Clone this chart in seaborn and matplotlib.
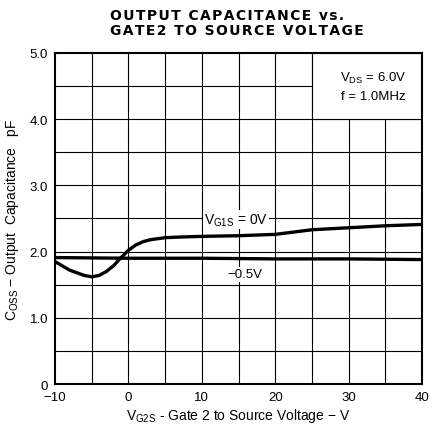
import pandas as pd
import matplotlib
matplotlib.use("Agg")
import matplotlib.pyplot as plt
from matplotlib.patches import Rectangle
import seaborn as sns

# VG1S = 0V curve
vg2s_0v = [-10, -8, -6, -5, -4, -3, -2, -1, 0, 1, 2, 3, 5, 7, 10, 15, 20, 25, 30, 35, 40]
coss_0v = [1.85, 1.72, 1.64, 1.62, 1.64, 1.70, 1.79, 1.91, 2.02, 2.10, 2.15, 2.18, 2.21,
           2.22, 2.23, 2.24, 2.26, 2.33, 2.36, 2.39, 2.41]
# VG1S = -0.5V curve
vg2s_05v = [-10, 0, 10, 20, 30, 40]
coss_05v = [1.91, 1.90, 1.90, 1.89, 1.89, 1.88]

x_ticks = [-10, 0, 10, 20, 30, 40]
x_labels = ["\u221210", "0", "10", "20", "30", "40"]
y_ticks = [0, 1, 2, 3, 4, 5]
y_labels = ["0", "1.0", "2.0", "3.0", "4.0", "5.0"]

title_lines = ["OUTPUT CAPACITANCE vs.", "GATE2 TO SOURCE VOLTAGE"]

df = pd.concat([
    pd.DataFrame({"vg2s": vg2s_0v, "coss": coss_0v, "vg1s": "0V"}),
    pd.DataFrame({"vg2s": vg2s_05v, "coss": coss_05v, "vg1s": "-0.5V"}),
])

sns.set_style("white")
plt.rcParams["font.family"] = ["Liberation Sans", "DejaVu Sans"]
plt.rcParams["mathtext.fontset"] = "custom"
plt.rcParams["mathtext.rm"] = "Liberation Sans"
for k in ["text.color", "axes.labelcolor", "xtick.color", "ytick.color"]:
    plt.rcParams[k] = "black"

fig = plt.figure(figsize=(4.33, 4.27), dpi=100)
ax = fig.add_axes([0.127, 0.098, 0.848, 0.776])

# grid every 5 V / 0.5 pF
for gx in range(-5, 40, 5):
    ax.axvline(gx, color="black", lw=0.8, zorder=1)
for gy in [0.5, 1.0, 1.5, 2.0, 2.5, 3.0, 3.5, 4.0, 4.5]:
    ax.axhline(gy, color="black", lw=0.8, zorder=1)

sns.lineplot(data=df, x="vg2s", y="coss", units="vg1s", estimator=None,
             color="black", lw=2.4, ax=ax, zorder=3, legend=False)

ax.set_xlim(-10, 40)
ax.set_ylim(0, 5)
ax.set_xticks(x_ticks)
ax.set_xticklabels(x_labels)
ax.set_yticks(y_ticks)
ax.set_yticklabels(y_labels)
ax.tick_params(length=0, labelsize=9.5, pad=5)
for s in ax.spines.values():
    s.set_color("black")
    s.set_linewidth(1.5)
    s.set_zorder(5)

# conditions box
ax.add_patch(Rectangle((25, 4.0), 15, 1.0, facecolor="white", edgecolor="black",
                       lw=0.8, zorder=2))
ax.text(33.3, 4.5, "$\\mathregular{V_{DS}}$ = 6.0V\nf = 1.0MHz", ha="center",
        va="center", fontsize=9.5, zorder=4, linespacing=1.6)

ax.text(10.3, 2.48, "$\\mathregular{V_{G1S}}$ = 0V", fontsize=10, ha="left", va="center",
        zorder=4, bbox=dict(facecolor="white", edgecolor="none", pad=1))
ax.text(13.5, 1.66, "\u22120.5V", fontsize=9.5, ha="left", va="center", zorder=4,
        bbox=dict(facecolor="white", edgecolor="none", pad=1))

ax.set_xlabel("$\\mathregular{V_{G2S}}$ - Gate 2 to Source Voltage \u2212 V", fontsize=10,
              labelpad=2)
ax.set_ylabel("$\\mathregular{C_{OSS}}$ \u2212 Output  Capacitance   pF", fontsize=10,
              labelpad=6)

# letter-spaced title like the printed sheet, lines left-aligned
spaced = "\n".join("\u200a".join(line) for line in title_lines)
fig.text(0.254, 0.98, spaced, ha="left", va="top", fontsize=10, fontweight="bold",
         family="DejaVu Sans", linespacing=1.1, multialignment="left")

fig.savefig("out.png", dpi=100)
